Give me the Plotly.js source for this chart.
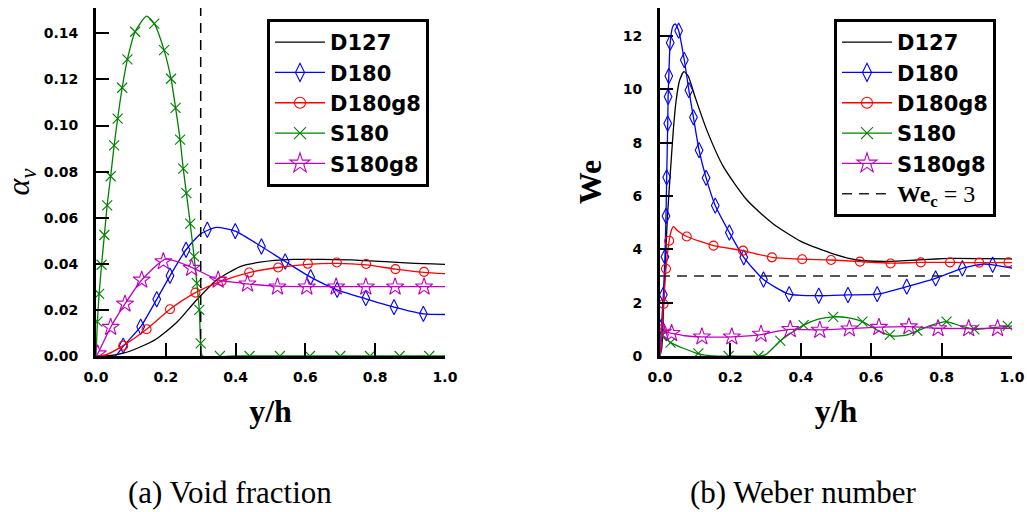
<!DOCTYPE html>
<html>
<head>
<meta charset="utf-8">
<script src="https://cdn.plot.ly/plotly-3.0.1.min.js"></script>
<style>html,body{margin:0;padding:0;background:#fff;}#chart{width:1027px;height:512px;}</style>
</head>
<body>
<div id="chart"></div>
<script>
// ---------- (a) Void fraction ----------
const a_D127_x = [0, 0.03, 0.078, 0.125, 0.174, 0.231, 0.288, 0.346, 0.413, 0.47, 0.565, 0.65, 0.756, 0.9, 1.0];
const a_D127_y = [0, 0, 0.0012, 0.0038, 0.0075, 0.0145, 0.0243, 0.033, 0.0388, 0.0407, 0.0419, 0.0419, 0.0415, 0.0403, 0.0398];

const a_D180_x = [0, 0.055, 0.078, 0.128, 0.174, 0.212, 0.258, 0.30, 0.345, 0.399, 0.474, 0.542, 0.615, 0.691, 0.773, 0.854, 0.938, 1.0];
const a_D180_y = [0, 0, 0.0042, 0.0127, 0.0246, 0.0348, 0.0461, 0.0530, 0.0558, 0.0542, 0.0475, 0.041, 0.0342, 0.0287, 0.0248, 0.0212, 0.0183, 0.018];
const a_D180_mx = [0.078, 0.128, 0.174, 0.212, 0.258, 0.319, 0.399, 0.474, 0.542, 0.615, 0.691, 0.773, 0.854, 0.938];
const a_D180_my = [0.0045, 0.0127, 0.0246, 0.0348, 0.0461, 0.0548, 0.0542, 0.0475, 0.041, 0.0342, 0.0287, 0.0251, 0.0212, 0.0183];

const a_D180g8_x = [0, 0.03, 0.078, 0.145, 0.212, 0.285, 0.36, 0.439, 0.522, 0.607, 0.69, 0.774, 0.858, 0.94, 1.0];
const a_D180g8_y = [0, 0.0006, 0.0045, 0.0116, 0.0203, 0.0275, 0.0325, 0.0362, 0.0384, 0.0398, 0.0402, 0.0395, 0.0377, 0.0363, 0.0357];
const a_D180g8_mx = [0.078, 0.145, 0.212, 0.285, 0.36, 0.439, 0.522, 0.607, 0.69, 0.774, 0.858, 0.94];
const a_D180g8_my = [0.0045, 0.0116, 0.0203, 0.0275, 0.0325, 0.0362, 0.0384, 0.04, 0.0406, 0.0399, 0.0377, 0.0365];

const a_S180_x = [0, 0.004, 0.009, 0.016, 0.024, 0.032, 0.042, 0.052, 0.062, 0.075, 0.09, 0.112, 0.145, 0.167, 0.195, 0.215, 0.228, 0.241, 0.25, 0.259, 0.27, 0.281, 0.289, 0.296, 0.3, 0.305, 0.4, 0.6, 0.8, 1.0];
const a_S180_y = [0, 0.0149, 0.027, 0.0396, 0.0525, 0.0654, 0.078, 0.0914, 0.103, 0.1164, 0.1287, 0.1407, 0.1475, 0.1442, 0.1327, 0.1203, 0.1077, 0.0939, 0.0813, 0.0707, 0.0574, 0.0432, 0.0316, 0.02, 0.0055, 0, 0, 0, 0, 0];
const a_S180_mx = [0.004, 0.009, 0.016, 0.024, 0.032, 0.042, 0.052, 0.062, 0.075, 0.09, 0.112, 0.167, 0.195, 0.215, 0.228, 0.241, 0.25, 0.259, 0.27, 0.281, 0.289, 0.296, 0.3, 0.355, 0.44, 0.527, 0.613, 0.70, 0.785, 0.87, 0.955];
const a_S180_my = [0.0149, 0.027, 0.0396, 0.0525, 0.0654, 0.078, 0.0914, 0.103, 0.1164, 0.1287, 0.1407, 0.1442, 0.1327, 0.1203, 0.1077, 0.0939, 0.0813, 0.0707, 0.0574, 0.0432, 0.0316, 0.02, 0.0055, 0, 0, 0, 0, 0, 0, 0, 0];

const a_S180g8_x = [0, 0.005, 0.042, 0.083, 0.131, 0.2, 0.274, 0.35, 0.434, 0.52, 0.604, 0.688, 0.773, 0.857, 0.94, 1.0];
const a_S180g8_y = [0, 0.001, 0.0125, 0.0226, 0.033, 0.042, 0.0385, 0.033, 0.0313, 0.0303, 0.0301, 0.0301, 0.0301, 0.0301, 0.0301, 0.0301];
const a_S180g8_mx = [0.005, 0.042, 0.083, 0.131, 0.193, 0.274, 0.35, 0.434, 0.52, 0.604, 0.688, 0.773, 0.857, 0.94];
const a_S180g8_my = [0.001, 0.0125, 0.0226, 0.033, 0.041, 0.0381, 0.033, 0.0313, 0.030, 0.030, 0.030, 0.030, 0.030, 0.030];

const a_threshold = 0.3;   // vertical dashed line y/h = 0.3

// ---------- (b) Weber number ----------
const b_D127_x = [0, 0.005, 0.01, 0.015, 0.021, 0.03, 0.038, 0.046, 0.056, 0.068, 0.08, 0.1, 0.133, 0.18, 0.247, 0.32, 0.4, 0.494, 0.56, 0.636, 0.731, 0.826, 0.92, 1.0];
const b_D127_y = [0, 0.3, 1.8, 3.4, 5.2, 7.0, 8.5, 9.6, 10.35, 10.66, 10.5, 9.7, 8.47, 7.1, 5.85, 4.97, 4.3, 3.82, 3.6, 3.55, 3.6, 3.66, 3.65, 3.64];

const b_D180_x = [0, 0.002, 0.004, 0.0095, 0.014, 0.017, 0.019, 0.022, 0.023, 0.025, 0.029, 0.036, 0.043, 0.053, 0.069, 0.082, 0.095, 0.111, 0.131, 0.157, 0.197, 0.238, 0.294, 0.367, 0.451, 0.534, 0.617, 0.701, 0.783, 0.859, 0.921, 0.945, 1.0];
const b_D180_y = [0, 0.4, 1.1, 2.3, 3.72, 5.25, 6.7, 8.72, 9.72, 10.5, 11.75, 12.35, 12.45, 12.2, 11.1, 9.97, 8.95, 7.72, 6.68, 5.64, 4.63, 3.7, 2.87, 2.32, 2.26, 2.29, 2.32, 2.6, 2.91, 3.29, 3.45, 3.42, 3.3];
const b_D180_mx = [0.004, 0.0095, 0.014, 0.017, 0.019, 0.022, 0.023, 0.025, 0.029, 0.053, 0.069, 0.082, 0.095, 0.111, 0.131, 0.157, 0.197, 0.238, 0.294, 0.367, 0.451, 0.534, 0.617, 0.701, 0.783, 0.859, 0.945];
const b_D180_my = [1.1, 2.3, 3.72, 5.25, 6.7, 8.72, 9.72, 10.5, 11.75, 12.2, 11.1, 9.97, 8.95, 7.72, 6.68, 5.64, 4.63, 3.7, 2.87, 2.32, 2.26, 2.29, 2.32, 2.6, 2.91, 3.29, 3.42];

const b_D180g8_x = [0, 0.003, 0.005, 0.01, 0.017, 0.026, 0.032, 0.038, 0.05, 0.076, 0.152, 0.236, 0.318, 0.404, 0.486, 0.568, 0.655, 0.741, 0.824, 0.907, 1.0];
const b_D180g8_y = [0, 0.3, 1.0, 1.95, 3.27, 4.32, 4.7, 4.85, 4.7, 4.48, 4.14, 3.95, 3.7, 3.63, 3.6, 3.54, 3.48, 3.51, 3.51, 3.5, 3.5];
const b_D180g8_mx = [0.005, 0.01, 0.017, 0.026, 0.076, 0.152, 0.236, 0.318, 0.404, 0.486, 0.568, 0.655, 0.741, 0.824, 0.907, 0.99];
const b_D180g8_my = [1.0, 1.95, 3.27, 4.32, 4.48, 4.14, 3.95, 3.7, 3.63, 3.6, 3.54, 3.47, 3.51, 3.51, 3.5, 3.51];

const b_S180_x = [0, 0.003, 0.01, 0.03, 0.066, 0.105, 0.15, 0.2, 0.28, 0.3, 0.342, 0.408, 0.45, 0.492, 0.54, 0.575, 0.62, 0.66, 0.7, 0.731, 0.77, 0.814, 0.86, 0.893, 0.94, 0.988, 1.0];
const b_S180_y = [0, 0.75, 0.72, 0.5, 0.29, 0.1, 0, 0, 0, 0.05, 0.57, 1.16, 1.38, 1.47, 1.42, 1.29, 0.95, 0.75, 0.78, 0.94, 1.15, 1.29, 1.1, 1.0, 1.05, 1.12, 1.12];
const b_S180_mx = [0.005, 0.03, 0.109, 0.195, 0.28, 0.342, 0.408, 0.492, 0.575, 0.653, 0.731, 0.814, 0.893, 0.988];
const b_S180_my = [0.75, 0.5, 0.1, 0, 0, 0.57, 1.16, 1.47, 1.29, 0.79, 0.94, 1.29, 1.0, 1.13];

const b_S180g8_x = [0, 0.003, 0.008, 0.033, 0.07, 0.119, 0.204, 0.287, 0.33, 0.37, 0.454, 0.538, 0.622, 0.707, 0.79, 0.877, 0.959, 1.0];
const b_S180g8_y = [0, 0.6, 0.9, 0.85, 0.76, 0.72, 0.72, 0.8, 0.92, 1.0, 0.98, 1.03, 1.08, 1.1, 1.04, 1.03, 1.04, 1.04];
const b_S180g8_mx = [0.008, 0.033, 0.119, 0.204, 0.287, 0.37, 0.454, 0.538, 0.622, 0.707, 0.79, 0.877, 0.959];
const b_S180g8_my = [0.9, 0.85, 0.72, 0.72, 0.82, 1.0, 0.97, 1.02, 1.08, 1.1, 1.03, 1.03, 1.03];

const b_WeC = 3;   // horizontal dashed line We_c = 3

const seriesNames = ['D127', 'D180', 'D180g8', 'S180', 'S180g8'];
const seriesColors = ['#000000', '#0000ff', '#ff0000', '#008000', '#bf00bf'];
const seriesSymbols = [null, 'diamond-tall-open', 'circle-open', 'x-thin-open', 'star-open'];
const seriesSizes = [0, 11, 9, 10, 13];

const panelA = [
  {x: a_D127_x, y: a_D127_y},
  {x: a_D180_x, y: a_D180_y, mx: a_D180_mx, my: a_D180_my},
  {x: a_D180g8_x, y: a_D180g8_y, mx: a_D180g8_mx, my: a_D180g8_my},
  {x: a_S180_x, y: a_S180_y, mx: a_S180_mx, my: a_S180_my},
  {x: a_S180g8_x, y: a_S180g8_y, mx: a_S180g8_mx, my: a_S180g8_my}
];
const panelB = [
  {x: b_D127_x, y: b_D127_y},
  {x: b_D180_x, y: b_D180_y, mx: b_D180_mx, my: b_D180_my},
  {x: b_D180g8_x, y: b_D180g8_y, mx: b_D180g8_mx, my: b_D180g8_my},
  {x: b_S180_x, y: b_S180_y, mx: b_S180_mx, my: b_S180_my},
  {x: b_S180g8_x, y: b_S180g8_y, mx: b_S180g8_mx, my: b_S180g8_my}
];

const traces = [];
function addPanel(panel, xa, ya, legendId) {
  panel.forEach((s, i) => {
    const col = seriesColors[i];
    traces.push({
      type: 'scatter', mode: 'lines', x: s.x, y: s.y, xaxis: xa, yaxis: ya,
      line: {color: col, width: 1.3, shape: 'spline', smoothing: 0.6},
      showlegend: false, hoverinfo: 'skip'
    });
    if (s.mx) {
      traces.push({
        type: 'scatter', mode: 'markers', x: s.mx, y: s.my, xaxis: xa, yaxis: ya,
        marker: {symbol: seriesSymbols[i], size: seriesSizes[i], color: col, line: {color: col, width: 1.1}},
        showlegend: false, hoverinfo: 'skip'
      });
    }
    // legend entry
    const leg = {
      type: 'scatter', x: [null], y: [null], xaxis: xa, yaxis: ya,
      name: seriesNames[i], legend: legendId,
      mode: s.mx ? 'lines+markers' : 'lines',
      line: {color: col, width: 1.3}
    };
    if (s.mx) leg.marker = {symbol: seriesSymbols[i], size: seriesSizes[i] + 2, color: col, line: {color: col, width: 1.1}};
    traces.push(leg);
  });
}
addPanel(panelA, 'x', 'y', 'legend');
addPanel(panelB, 'x2', 'y2', 'legend2');

// reference lines
traces.push({
  type: 'scatter', mode: 'lines', x: [a_threshold, a_threshold], y: [0, 0.151], xaxis: 'x', yaxis: 'y',
  line: {color: '#000', width: 1.5, dash: '10px,7px'}, showlegend: false, hoverinfo: 'skip'
});
traces.push({
  type: 'scatter', mode: 'lines', x: [0, 1], y: [b_WeC, b_WeC], xaxis: 'x2', yaxis: 'y2',
  line: {color: '#222', width: 1.5, dash: '10px,7px'},
  name: '<span style="font-family:\'Liberation Serif\';font-size:24px"><b>We</b><sub><b>c</b></sub><span style="font-weight:normal"> = 3</span></span>',
  legend: 'legend2', showlegend: true, hoverinfo: 'skip'
});

const tickFont = {family: 'DejaVu Sans', size: 14, weight: 'bold', color: '#000'};
const titleFont = {family: 'Liberation Serif', size: 32, color: '#000'};
const axBase = {
  showline: true, linecolor: '#000', linewidth: 3, mirror: false,
  ticks: 'inside', ticklen: 13, tickwidth: 2, tickcolor: '#000',
  showgrid: false, zeroline: false, tickfont: tickFont, fixedrange: true
};
const yDom = [(512 - 356) / 512, (512 - 8) / 512];
const legendFont = {family: 'DejaVu Sans', size: 21, weight: 'bold', color: '#000'};

const layout = {
  width: 1027, height: 512,
  margin: {l: 0, r: 0, t: 0, b: 0},
  paper_bgcolor: '#fff', plot_bgcolor: '#fff',
  showlegend: true,
  xaxis: Object.assign({}, axBase, {
    domain: [96 / 1027, 445 / 1027], range: [0, 1], dtick: 0.2, tick0: 0, tickformat: '.1f',
    anchor: 'y', ticklabelstandoff: 6,
    title: {text: '<b>y/h</b>', font: titleFont, standoff: 16}
  }),
  yaxis: Object.assign({}, axBase, {
    domain: yDom, range: [0, 0.151], dtick: 0.02, tick0: 0, tickformat: '.2f',
    anchor: 'x', ticklabelstandoff: 12,
    title: {text: '<i>α</i><sub><i>v</i></sub>', font: {family: 'Liberation Serif', size: 32, color: '#000'}, standoff: 12}
  }),
  xaxis2: Object.assign({}, axBase, {
    domain: [660 / 1027, 1012 / 1027], range: [0, 1], dtick: 0.2, tick0: 0, tickformat: '.1f',
    anchor: 'y2', ticklabelstandoff: 6,
    title: {text: '<b>y/h</b>', font: titleFont, standoff: 16}
  }),
  yaxis2: Object.assign({}, axBase, {
    domain: yDom, range: [0, 13.05], dtick: 2, tick0: 0, tickformat: 'd',
    anchor: 'x2', ticklabelstandoff: 12,
    title: {text: '<b>We</b>', font: titleFont, standoff: 12}
  }),
  legend: {
    x: 267 / 1027, y: 1 - 19 / 512, xanchor: 'left', yanchor: 'top',
    bgcolor: '#fff', bordercolor: '#000', borderwidth: 3,
    font: legendFont, itemwidth: 50, tracegroupgap: 0
  },
  legend2: {
    x: 834 / 1027, y: 1 - 19 / 512, xanchor: 'left', yanchor: 'top',
    bgcolor: '#fff', bordercolor: '#000', borderwidth: 3,
    font: legendFont, itemwidth: 50, tracegroupgap: 0
  },
  annotations: [
    {text: '(a) Void fraction', xref: 'paper', yref: 'paper', x: 230 / 1027, y: 1 - 492 / 512,
     xanchor: 'center', yanchor: 'middle', showarrow: false,
     font: {family: 'Liberation Serif', size: 31, color: '#000'}},
    {text: '(b) Weber number', xref: 'paper', yref: 'paper', x: 803 / 1027, y: 1 - 492 / 512,
     xanchor: 'center', yanchor: 'middle', showarrow: false,
     font: {family: 'Liberation Serif', size: 31, color: '#000'}}
  ]
};

Plotly.newPlot('chart', traces, layout, {staticPlot: true, displayModeBar: false});
</script>
</body>
</html>
